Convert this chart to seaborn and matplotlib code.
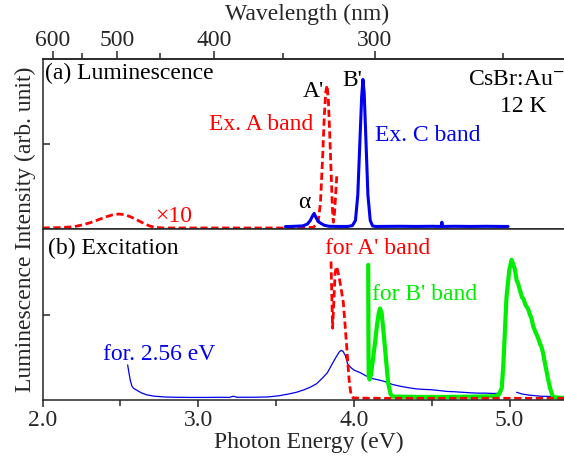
import numpy as np
import pandas as pd
import matplotlib
matplotlib.use("Agg")
import matplotlib.pyplot as plt
import seaborn as sns

# ---------------- data ----------------
# (a) Luminescence, excited in A band (red dashed, x10 below 3.7 eV)
lumA_E = [2.00, 2.10, 2.20, 2.26, 2.31, 2.36, 2.41, 2.45, 2.49, 2.53, 2.57, 2.61,
          2.65, 2.69, 2.73, 2.78, 2.90, 3.10, 3.30, 3.50, 3.65, 3.74, 3.77, 3.785,
          3.80, 3.81, 3.82, 3.828, 3.836, 3.845, 3.855, 3.862, 3.868, 3.876, 3.884, 3.890]
lumA_I = [0.006, 0.008, 0.013, 0.025, 0.038, 0.055, 0.072, 0.083, 0.088, 0.084, 0.070, 0.052,
          0.033, 0.017, 0.009, 0.006, 0.006, 0.006, 0.006, 0.006, 0.006, 0.010, 0.040, 0.150,
          0.440, 0.670, 0.810, 0.845, 0.760, 0.550, 0.300, 0.120, 0.040, 0.100, 0.220, 0.310]

# (a) Luminescence, excited in C band (blue)
lumC_E = [3.56, 3.62, 3.67, 3.70, 3.72, 3.735, 3.745, 3.755, 3.77, 3.79, 3.81, 3.84,
          3.90, 3.96, 3.99, 4.01, 4.025, 4.04, 4.05, 4.058, 4.066, 4.075, 4.09, 4.105,
          4.12, 4.14, 4.30, 4.40, 4.50, 4.56, 4.565, 4.57, 4.65, 4.75, 4.85, 4.95, 4.99]
lumC_I = [0.014, 0.016, 0.018, 0.028, 0.050, 0.078, 0.092, 0.070, 0.045, 0.032, 0.022, 0.016,
          0.015, 0.015, 0.020, 0.050, 0.200, 0.550, 0.780, 0.880, 0.800, 0.580, 0.200, 0.050,
          0.018, 0.015, 0.016, 0.015, 0.016, 0.015, 0.040, 0.015, 0.016, 0.015, 0.016, 0.015, 0.015]

# (b) Excitation for A' band (red dashed)
excA_E = [3.853, 3.858, 3.863, 3.870, 3.879, 3.887, 3.895, 3.905, 3.918, 3.932, 3.944,
          3.954, 3.963, 3.972, 3.982, 3.995, 4.10, 4.40, 4.70, 5.00, 5.20, 5.42]
excA_I = [0.81, 0.62, 0.42, 0.55, 0.74, 0.78, 0.76, 0.72, 0.65, 0.57, 0.43,
          0.31, 0.19, 0.09, 0.03, 0.012, 0.010, 0.010, 0.010, 0.010, 0.010, 0.010]

# (b) Excitation for B' band (green)
excB_E = [4.092, 4.093, 4.095, 4.100, 4.110, 4.120, 4.135, 4.150, 4.160, 4.168, 4.178,
          4.190, 4.205, 4.220, 4.235, 4.25, 4.40, 4.60, 4.80, 4.90, 4.93, 4.95, 4.96,
          4.98, 4.998, 5.013, 5.025, 5.035, 5.045, 5.055, 5.067, 5.08, 5.09, 5.10, 5.11,
          5.12, 5.13, 5.14, 5.152, 5.165, 5.18, 5.195, 5.205, 5.216, 5.228, 5.24, 5.25,
          5.26, 5.277, 5.30, 5.35, 5.42]
excB_I = [0.79, 0.45, 0.14, 0.12, 0.15, 0.22, 0.33, 0.45, 0.51, 0.535, 0.51,
          0.40, 0.25, 0.10, 0.035, 0.020, 0.018, 0.018, 0.020, 0.022, 0.030, 0.070, 0.210,
          0.600, 0.760, 0.820, 0.790, 0.760, 0.700, 0.680, 0.640, 0.600, 0.590, 0.560, 0.545,
          0.530, 0.500, 0.480, 0.430, 0.400, 0.370, 0.330, 0.310, 0.270, 0.210, 0.156, 0.110,
          0.070, 0.020, 0.015, 0.012, 0.012]

# (b) Excitation for 2.56 eV emission (thin blue), two measured segments
exc256_E = [2.547, 2.555, 2.565, 2.575, 2.585, 2.60, 2.615, 2.64, 2.67, 2.72, 2.78, 2.85,
            2.95, 3.05, 3.15, 3.20, 3.225, 3.25, 3.35, 3.45, 3.52, 3.58, 3.63, 3.68, 3.72,
            3.76, 3.80, 3.83, 3.86, 3.885, 3.905, 3.918, 3.93, 3.945, 3.96, 3.98, 4.00,
            4.04, 4.08, 4.12, 4.17, 4.21, 4.25, 4.30, 4.35, 4.40, 4.45, 4.50, 4.55, 4.60,
            4.65, 4.70, 4.75, 4.80, 4.85, 4.90, 4.93, 4.95,
            5.045, 5.08, 5.13, 5.20, 5.30, 5.42]
exc256_I = [0.205, 0.160, 0.110, 0.080, 0.068, 0.060, 0.052, 0.040, 0.030, 0.022, 0.018, 0.016,
            0.015, 0.015, 0.016, 0.015, 0.022, 0.016, 0.016, 0.018, 0.025, 0.035, 0.045, 0.060, 0.075,
            0.095, 0.130, 0.160, 0.210, 0.250, 0.280, 0.290, 0.285, 0.260, 0.210, 0.190, 0.175,
            0.160, 0.140, 0.125, 0.115, 0.105, 0.090, 0.080, 0.072, 0.065, 0.062, 0.060, 0.055, 0.050,
            0.048, 0.045, 0.042, 0.040, 0.040, 0.038, 0.040, 0.050,
            0.045, 0.035, 0.028, 0.022, 0.020, 0.018]
exc256_seg = [0] * 58 + [1] * 6

x_major = [2.0, 3.0, 4.0, 5.0]
x_minor = [2.5, 3.5, 4.5]
x_labels = ["2.0", "3.0", "4.0", "5.0"]
wl_major = [600, 500, 400, 300]
wl_minor = [550, 450, 350, 250]
HC = 1239.84  # eV nm

# ---------------- style ----------------
sns.set_style("ticks")
plt.rcParams["font.family"] = ["Liberation Serif", "DejaVu Serif"]
plt.rcParams["mathtext.fontset"] = "stix"
plt.rcParams["axes.linewidth"] = 1.1
FS = 17

RED = "#ff0000"
BLUE = "#0000ee"
GREEN = "#00ee00"

fig = plt.figure(figsize=(5.64, 4.61), dpi=100)
L = 42.5 / 564
W = 155.7 * 3.42 / 564
ax_a = fig.add_axes([L, (461 - 229) / 461, W, (229 - 59) / 461])
ax_b = fig.add_axes([L, (461 - 400) / 461, W, (400 - 229) / 461])

xlim = (2.0, 5.42)

# panel (a)
dfA = pd.DataFrame({"E": lumA_E, "I": lumA_I})
dfC = pd.DataFrame({"E": lumC_E, "I": lumC_I})
sns.lineplot(data=dfA, x="E", y="I", ax=ax_a, color=RED, lw=2.0, sort=False,
             estimator=None, linestyle=(0, (2.6, 1.3)))
sns.lineplot(data=dfC, x="E", y="I", ax=ax_a, color=BLUE, lw=2.2, sort=False,
             estimator=None)

# panel (b)
dfEA = pd.DataFrame({"E": excA_E, "I": excA_I})
dfEB = pd.DataFrame({"E": excB_E, "I": excB_I})
dfE2 = pd.DataFrame({"E": exc256_E, "I": exc256_I, "seg": exc256_seg})
sns.lineplot(data=dfE2, x="E", y="I", units="seg", ax=ax_b, color=BLUE, lw=0.9,
             sort=False, estimator=None)
sns.lineplot(data=dfEB, x="E", y="I", ax=ax_b, color=GREEN, lw=3.0, sort=False,
             estimator=None)
sns.lineplot(data=dfEA, x="E", y="I", ax=ax_b, color=RED, lw=2.0, sort=False,
             estimator=None, linestyle=(0, (2.6, 1.3)))

for ax in (ax_a, ax_b):
    ax.set_xlim(*xlim)
    ax.set_ylim(0, 1)
    ax.set_yticks([0.5])
    ax.set_yticklabels([])
    ax.set_ylabel("")
    ax.set_xlabel("")
    ax.spines["right"].set_visible(False)
    ax.spines["top"].set_visible(True)
    ax.tick_params(axis="y", direction="in", length=5, width=1.1, left=True)

ax_a.tick_params(axis="x", bottom=False, labelbottom=False)
ax_a.set_xticks([])

ax_b.set_xticks(x_major)
ax_b.set_xticklabels(x_labels, fontsize=FS)
ax_b.set_xticks(x_minor, minor=True)
ax_b.tick_params(axis="x", which="major", direction="out", length=5, width=1.1, pad=2)
ax_b.tick_params(axis="x", which="minor", direction="out", length=4, width=1.1)
ax_b.set_xlabel("Photon Energy (eV)", fontsize=FS, labelpad=1)

# top wavelength axis
ax_w = ax_a.twiny()
ax_w.set_xlim(*xlim)
ax_w.set_xticks([HC / w for w in wl_major])
ax_w.set_xticklabels([str(w) for w in wl_major], fontsize=FS)
ax_w.set_xticks([HC / w for w in wl_minor], minor=True)
ax_w.tick_params(axis="x", which="major", direction="out", length=6, width=1.1, pad=0)
ax_w.tick_params(axis="x", which="minor", direction="out", length=4, width=1.1)
ax_w.spines["right"].set_visible(False)
for s in ("left", "bottom"):
    ax_w.spines[s].set_visible(False)

fig.text(0.545, 1 - 14 / 461, "Wavelength (nm)", ha="center", va="center", fontsize=FS)
fig.text(0.045, 0.503, "Luminescence Intensity (arb. unit)", rotation=90,
         ha="center", va="center", fontsize=FS)

# annotations panel (a)
kw = dict(fontsize=FS, va="baseline", ha="left")
ax_a.text(2.016, 0.882, "(a) Luminescence", color="black", **kw)
ax_a.text(3.673, 0.776, "A'", color="black", **kw)
ax_a.text(3.924, 0.841, "B'", color="black", **kw)
ax_a.text(3.069, 0.582, "Ex. A band", color=RED, **kw)
ax_a.text(4.135, 0.518, "Ex. C band", color=BLUE, **kw)
ax_a.text(4.73, 0.847, "CsBr:Au$^{-}$", color="black", **kw)
ax_a.text(4.938, 0.690, "12 K", color="black", **kw)
ax_a.text(3.641, 0.124, "α", color="black", **kw)
ax_a.text(2.7225, 0.044, "×10", color=RED, **kw)

# annotations panel (b)
ax_b.text(2.035, 0.854, "(b) Excitation", color="black", **kw)
ax_b.text(3.814, 0.854, "for A' band", color=RED, **kw)
ax_b.text(4.116, 0.585, "for B' band", color=GREEN, **kw)
ax_b.text(2.389, 0.234, "for. 2.56 eV", color=BLUE, **kw)

fig.savefig("out.png", dpi=100)
